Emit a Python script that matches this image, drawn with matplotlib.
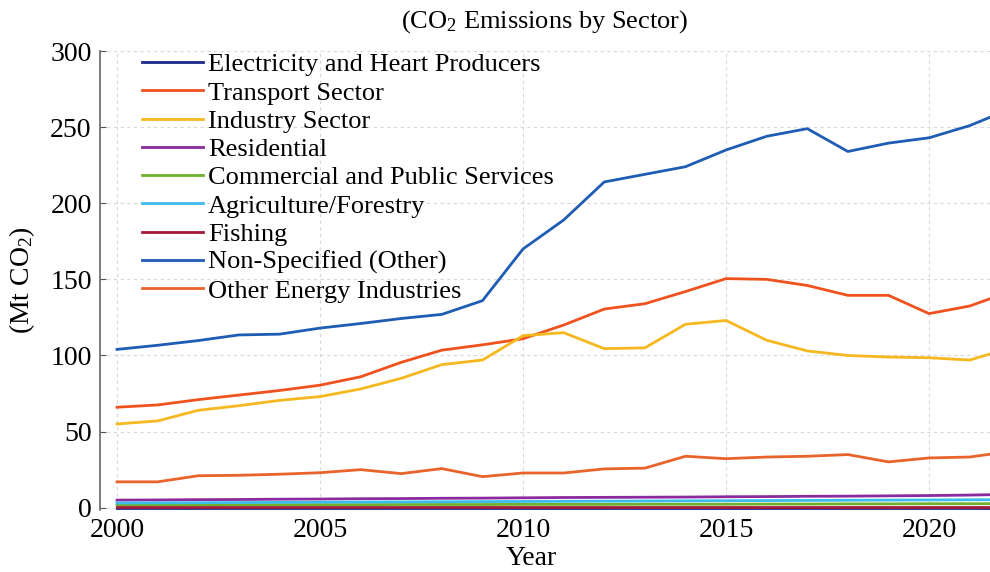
import matplotlib
matplotlib.use("Agg")
import matplotlib.pyplot as plt

plt.rcParams['font.family'] = 'serif'
plt.rcParams['font.serif'] = ['Liberation Serif', 'DejaVu Serif']
plt.rcParams['mathtext.fontset'] = 'custom'
plt.rcParams['mathtext.rm'] = 'Liberation Serif'
plt.rcParams['mathtext.it'] = 'Liberation Serif:italic'

years = list(range(2000, 2023))

electricity = [-0.5] * 23
transport = [66, 67.5, 71, 74, 77, 80.5, 86, 95.5, 103.5, 107, 111, 120,
             130.5, 134, 142, 150.5, 150, 146, 139.5, 139.5, 127.5, 132.5, 142]
industry = [55, 57, 64, 67, 70.5, 73, 78, 85, 94, 97, 113, 115,
            104.5, 105, 120.5, 123, 110, 103, 100, 99, 98.5, 97, 105]
residential = [5.0, 5.1, 5.3, 5.4, 5.6, 5.7, 5.9, 6.0, 6.2, 6.3, 6.5, 6.7,
               6.8, 6.9, 7.0, 7.2, 7.3, 7.5, 7.6, 7.8, 8.0, 8.3, 8.8]
commercial = [1.8, 1.8, 1.9, 1.9, 2.0, 2.0, 2.0, 2.1, 2.1, 2.1, 2.2, 2.2,
              2.2, 2.3, 2.3, 2.3, 2.4, 2.4, 2.5, 2.5, 2.6, 2.6, 2.7]
agriculture = [3.1, 3.2, 3.3, 3.4, 3.5, 3.6, 3.7, 3.8, 3.9, 4.0, 4.1, 4.2,
               4.3, 4.4, 4.5, 4.6, 4.7, 4.8, 4.9, 5.0, 5.1, 5.2, 5.3]
fishing = [0.3] * 23
non_specified = [104, 106.7, 109.8, 113.5, 114, 118, 121, 124.3, 127, 136, 170, 189,
                 214, 219, 224, 235, 244, 249, 234, 239.5, 243, 251, 262]
other_energy = [17, 17, 21, 21.3, 22, 23, 25, 22.4, 25.7, 20.4, 22.8, 22.8,
                25.5, 26, 33.8, 32.2, 33.3, 33.8, 34.9, 30.1, 32.7, 33.3, 37]

series = [
    ("Electricity and Heart Producers", electricity, "#1a2a8c"),
    ("Transport Sector", transport, "#f0521e"),
    ("Industry Sector", industry, "#f5b81e"),
    ("Residential", residential, "#8a2a9e"),
    ("Commercial and Public Services", commercial, "#6fb02c"),
    ("Agriculture/Forestry", agriculture, "#3cbcec"),
    ("Fishing", fishing, "#a31a3a"),
    ("Non-Specified (Other)", non_specified, "#1f5cb4"),
    ("Other Energy Industries", other_energy, "#e8642a"),
]

fig = plt.figure(figsize=(9.9, 5.72), dpi=100)
ax = fig.add_axes([0.101, 0.1084, 0.899, 0.8024])

for name, vals, col in series:
    ax.plot(years, vals, color=col, lw=2.0, label=name)

ax.set_xlim(1999.58, 2021.5)
ax.set_ylim(-1.5, 300)
ax.set_xticks([2000, 2005, 2010, 2015, 2020])
ax.set_yticks([0, 50, 100, 150, 200, 250, 300])
ax.tick_params(axis='y', direction='in', length=4, labelsize=20, pad=6, color='#555555')
ax.tick_params(axis='x', length=0, labelsize=20, pad=6)
ax.grid(True, linestyle=(0, (3, 3)), color='#d8d8d8', lw=0.8)

for s in ['top', 'right', 'bottom']:
    ax.spines[s].set_visible(False)
ax.spines['left'].set_color('#666666')
ax.spines['left'].set_linewidth(1.2)

ax.set_xlabel("Year", fontsize=20)
ax.xaxis.set_label_coords(0.485, -0.078)
ax.set_ylabel("(Mt CO$_2$)", fontsize=20)
ax.yaxis.set_label_coords(-0.071, 0.5)
fig.text(0.55, 0.962, "(CO$_2$ Emissions by Sector)", fontsize=19, ha='center', va='center')

leg = ax.legend(loc='upper left', bbox_to_anchor=(142 / 990, 1 - 53 / 572),
                bbox_transform=fig.transFigure, frameon=False, fontsize=19,
                handlelength=2.3, handletextpad=0.2, labelspacing=0.18,
                borderpad=0, borderaxespad=0)

fig.savefig("out.png", dpi=100)
